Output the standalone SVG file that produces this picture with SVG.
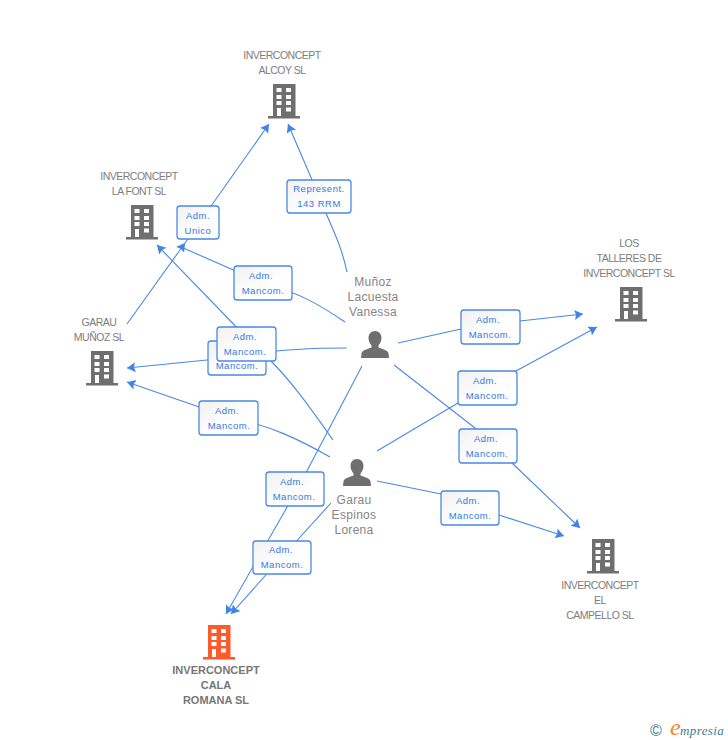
<svg xmlns="http://www.w3.org/2000/svg" width="728" height="740" viewBox="0 0 728 740">
<style>
text{font-family:"Liberation Sans",Arial,sans-serif}
.n{font-size:10.500px;fill:#7d7d7d;text-anchor:middle;letter-spacing:-.5px}
.p{font-size:12px;fill:#858585;text-anchor:middle;letter-spacing:.3px}
.b{font-size:11px;fill:#777;text-anchor:middle;font-weight:bold}
.l{font-size:9.500px;fill:#3478e0;text-anchor:middle;letter-spacing:.5px}
.e{fill:none;stroke:#4a88e4;stroke-width:1.100}
.h{marker-end:url(#a)}
.box{fill:url(#g);stroke:#4a88e4;stroke-width:1.300}
</style>
<defs>
<marker id="a" markerUnits="userSpaceOnUse" markerWidth="10" markerHeight="11" refX="8.500" refY="5" orient="auto"><path d="M0 0L8.500 5L0 10L1.500 5Z" fill="#3f84e6"/></marker>
<linearGradient id="g" x1="0" y1="0" x2="1" y2="1"><stop offset="0" stop-color="#f1f1f1"/><stop offset=".6" stop-color="#fff"/></linearGradient>
<g id="bld">
<path d="M5 0H27.500V32H32V34.500H0V32H5Z"/>
<g fill="#fff"><rect x="8.500" y="4" width="5" height="4"/><rect x="18" y="4" width="5" height="4"/><rect x="8.500" y="11" width="5" height="4"/><rect x="18" y="11" width="5" height="4"/><rect x="8.500" y="17" width="5" height="4"/><rect x="18" y="17" width="5" height="4"/><rect x="9" y="24" width="4" height="8"/><rect x="18" y="23.500" width="5" height="4"/></g>
</g>
<path id="per" d="M14 0C18 0 20.500 3 20.500 7C20.500 10 19 13 17.500 14.500V16.500C21 18 27 19 27.500 22.500L28 27H0L.5 22.500C1 19 7 18 10.500 16.500V14.500C9 13 7.500 10 7.500 7C7.500 3 10 0 14 0Z" fill="#6f6f6f"/>
</defs>
<rect width="728" height="740" fill="#fff"/>
<g id="connectors">
<path class="e h" d="M127 324L185 243"/>
<path class="e h" d="M185 243L269 124"/>
<path class="e h" d="M347 272C340 240 330 225 319 196L288 124"/>
<path class="e" d="M345 322C320 305 300 293 263 283L181 247"/>
<path class="e h" d="M333 440C315 415 295 385 270 360L245 336L157 245"/>
<path class="e h" d="M347 348C310 348 270 350 237 357L127 368"/>
<path class="e h" d="M330 457C300 440 270 425 228 417L127 382"/>
<path class="e h" d="M362 366L298 488L226 614"/>
<path class="e h" d="M331 503L282 557L231 614"/>
<path class="e h" d="M398 343L461 329L520 321L583 314"/>
<path class="e h" d="M377 451L458 403L516 371L597 327"/>
<path class="e h" d="M394 365L475 428L512 463L580 528"/>
<path class="e h" d="M377 481L441 494L499 515L564 536"/>
</g>
<g id="label-1"><rect class="box" x="177" y="206" width="42" height="33" rx="3"/><text class="l" x="198" y="219">Adm.</text><text class="l" x="198" y="234">Unico</text></g>
<g id="label-2"><rect class="box" x="287" y="180" width="64" height="33" rx="3"/><text class="l" x="319" y="192">Represent.</text><text class="l" x="319" y="207">143 RRM</text></g>
<g id="label-3"><rect class="box" x="234" y="266" width="58" height="34" rx="3"/><text class="l" x="261" y="279">Adm.</text><text class="l" x="263" y="294">Mancom.</text></g>
<g id="label-4"><rect class="box" x="208" y="341" width="58" height="34" rx="3"/><text class="l" x="237" y="369">Mancom.</text></g>
<g id="label-5"><rect class="box" x="217" y="327" width="59" height="34" rx="3"/><text class="l" x="245" y="340">Adm.</text><text class="l" x="245" y="355">Mancom.</text></g>
<g id="label-6"><rect class="box" x="199" y="401" width="59" height="34" rx="3"/><text class="l" x="227" y="414">Adm.</text><text class="l" x="229" y="429">Mancom.</text></g>
<g id="label-7"><rect class="box" x="266" y="472" width="58" height="34" rx="3"/><text class="l" x="292" y="485">Adm.</text><text class="l" x="294" y="500">Mancom.</text></g>
<g id="label-8"><rect class="box" x="253" y="541" width="58" height="33" rx="3"/><text class="l" x="281" y="553">Adm.</text><text class="l" x="282" y="568">Mancom.</text></g>
<g id="label-9"><rect class="box" x="461" y="310" width="59" height="34" rx="3"/><text class="l" x="488" y="323">Adm.</text><text class="l" x="490" y="338">Mancom.</text></g>
<g id="label-10"><rect class="box" x="458" y="371" width="59" height="34" rx="3"/><text class="l" x="485" y="384">Adm.</text><text class="l" x="487" y="399">Mancom.</text></g>
<g id="label-11"><rect class="box" x="459" y="429" width="58" height="34" rx="3"/><text class="l" x="486" y="442">Adm.</text><text class="l" x="487" y="457">Mancom.</text></g>
<g id="label-12"><rect class="box" x="441" y="491" width="58" height="34" rx="3"/><text class="l" x="468" y="504">Adm.</text><text class="l" x="470" y="519">Mancom.</text></g>
<g id="node-alcoy"><text class="n" x="282" y="59">INVERCONCEPT</text><text class="n" x="282" y="74">ALCOY SL</text><use href="#bld" x="268" y="84" fill="#6f6f6f"/></g>
<g id="node-lafont"><text class="n" x="139" y="180">INVERCONCEPT</text><text class="n" x="139" y="195">LA FONT SL</text><use href="#bld" x="126" y="205" fill="#6f6f6f"/></g>
<g id="node-garau-munoz"><text class="n" x="99" y="326">GARAU</text><text class="n" x="99" y="341">MUÑOZ SL</text><use href="#bld" x="86" y="351" fill="#6f6f6f"/></g>
<g id="node-talleres"><text class="n" x="629" y="247">LOS</text><text class="n" x="629" y="262">TALLERES DE</text><text class="n" x="629" y="277">INVERCONCEPT SL</text><use href="#bld" x="615" y="287" fill="#6f6f6f"/></g>
<g id="node-campello"><use href="#bld" x="587" y="539" fill="#6f6f6f"/><text class="n" x="600" y="589">INVERCONCEPT</text><text class="n" x="600" y="604">EL</text><text class="n" x="600" y="619">CAMPELLO SL</text></g>
<g id="node-cala"><use href="#bld" x="203" y="625" fill="#ff5a2b"/><text class="b" x="216" y="674">INVERCONCEPT</text><text class="b" x="216" y="689">CALA</text><text class="b" x="216" y="704">ROMANA SL</text></g>
<g id="node-munoz"><text class="p" x="373" y="286">Muñoz</text><text class="p" x="373" y="301">Lacuesta</text><text class="p" x="373" y="316">Vanessa</text><use href="#per" x="361" y="331"/></g>
<g id="node-garau"><use href="#per" x="343" y="459"/><text class="p" x="354" y="504">Garau</text><text class="p" x="354" y="519">Espinos</text><text class="p" x="354" y="534">Lorena</text></g>
<g id="logo"><text x="650" y="736" font-size="16" fill="#3d7d94">©</text><text x="670" y="735" font-size="24" font-style="italic" fill="#f08a1d" style="font-family:'Liberation Serif',serif">e</text><text x="680" y="735" font-size="13" font-style="italic" fill="#3d7d94" letter-spacing=".4" style="font-family:'Liberation Serif',serif">mpresia</text></g>
</svg>
